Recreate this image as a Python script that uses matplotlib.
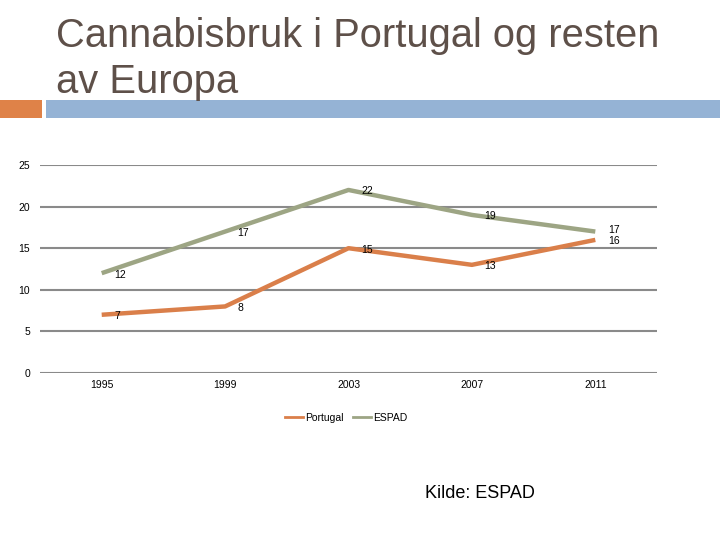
import matplotlib
matplotlib.use("Agg")
import matplotlib.pyplot as plt
from matplotlib.patches import Rectangle
from matplotlib.lines import Line2D

plt.rcParams['font.family'] = ['Liberation Sans', 'DejaVu Sans']

# data
years = ['1995', '1999', '2003', '2007', '2011']
portugal = [7, 8, 15, 13, 16]
espad = [12, 17, 22, 19, 17]

c_port = '#DA7F4A'
c_espad = '#9DA584'
c_grid = '#8A8A8A'

fig = plt.figure(figsize=(7.2, 5.4), dpi=100)

# title and header bars
fig.text(56 / 720, 1 - 17 / 540, 'Cannabisbruk i Portugal og resten\nav Europa',
         fontsize=28.7, color='#5E5049', ha='left', va='top', linespacing=1.28)
fig.add_artist(Rectangle((0, 1 - 118 / 540), 42 / 720, 18 / 540,
                         transform=fig.transFigure, color='#DF8248', lw=0))
fig.add_artist(Rectangle((46 / 720, 1 - 118 / 540), 674 / 720, 18 / 540,
                         transform=fig.transFigure, color='#95B3D5', lw=0))

ax = fig.add_axes([40 / 720, 1 - 373 / 540, 617 / 720, 208 / 540])
x = range(len(years))
ax.plot(x, portugal, color=c_port, lw=3.2, label='Portugal', solid_capstyle='butt')
ax.plot(x, espad, color=c_espad, lw=3.2, label='ESPAD', solid_capstyle='butt')

# data labels, slightly right of each point
for i, v in enumerate(portugal):
    ax.annotate(str(v), (i, v), xytext=(9, -1), textcoords='offset points',
                fontsize=7.5, ha='left', va='center')
for i, v in enumerate(espad):
    dy = 1 if i == 4 else -1
    ax.annotate(str(v), (i, v), xytext=(9, dy), textcoords='offset points',
                fontsize=7.5, ha='left', va='center')

ax.set_xlim(-0.5, 4.5)
ax.set_ylim(0, 25)
ax.set_yticks([0, 5, 10, 15, 20, 25])
ax.set_xticks(list(x))
ax.set_xticklabels(years)
ax.yaxis.grid(True, color=c_grid, lw=1.5)
ax.set_axisbelow(True)
for s in ax.spines.values():
    s.set_visible(False)
ax.tick_params(length=0, labelsize=7.5)
ax.tick_params(axis='x', pad=5)
ax.tick_params(axis='y', pad=7)

# legend
handles = [Line2D([], [], color=c_port, lw=2), Line2D([], [], color=c_espad, lw=2)]
fig.legend(handles, ['Portugal', 'ESPAD'], loc='center', bbox_to_anchor=(346 / 720, 1 - 418 / 540),
           ncol=2, frameon=False, fontsize=7.5, handlelength=1.75, handletextpad=0.2,
           columnspacing=0.9)

fig.text(425 / 720, 1 - 494 / 540, 'Kilde: ESPAD', fontsize=13, ha='left', va='center')

fig.savefig('out.png', dpi=100)
